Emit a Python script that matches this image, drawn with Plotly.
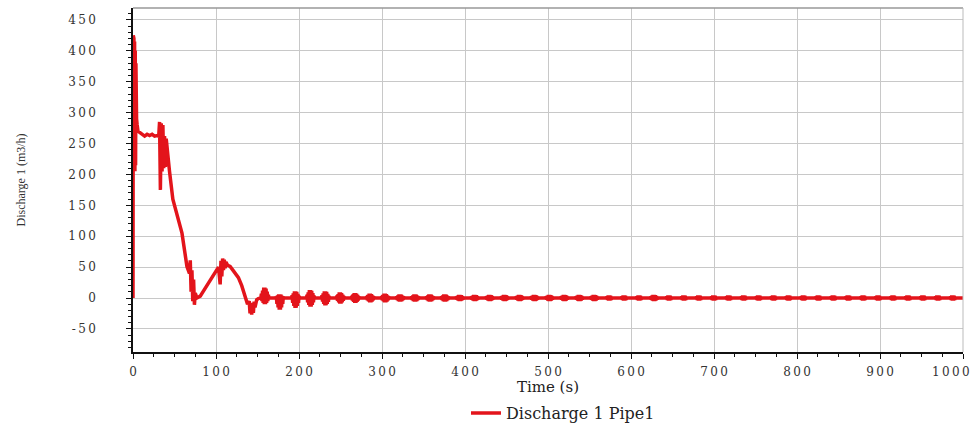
import plotly.graph_objects as go

# ---- data ----
# main transient (time s, discharge m3/h)
t_main = [0, 0.3, 0.7, 1.1, 1.5, 1.9, 2.3, 2.7, 3.1, 3.5, 3.9, 4.3, 5, 6, 8, 11, 14, 17, 20, 23, 26, 29, 31,
          32, 33, 34, 35, 36, 37, 38, 39, 40, 42, 44, 48, 53, 59, 65, 68, 69, 70, 71, 72, 73, 74, 75, 77, 81,
          86, 91, 96, 101, 103, 105, 106, 107, 108, 109, 110, 111, 112, 114, 117, 121, 125, 127, 131, 135,
          138, 140, 141, 142, 143, 144, 145, 146, 147, 149, 151]
q_main = [0, 425, 205, 420, 210, 415, 205, 400, 215, 380, 230, 290, 280, 270, 268, 264, 262, 265, 263, 265, 262, 263, 262,
          285, 175, 283, 205, 280, 210, 262, 212, 258, 228, 205, 160, 135, 105, 51, 40, 61, 10, 45, -5, 30, -11, 8, 0, 3,
          14, 24, 35, 45, 50, 22, 60, 35, 64, 45, 62, 48, 58, 53, 51, 44, 36, 33, 20, 2,
          -10, -5, -25, -8, -27, -12, -24, -6, -15, -3, -1]

# oscillation bursts after ~150 s: centre time, upper peak, lower trough
burst_t = [159, 177, 196, 214, 232, 250, 268, 286, 304, 322, 340, 358, 376, 394, 412, 430, 448, 466, 484, 502,
           520, 538, 556, 574, 592, 610, 628, 646, 664, 682, 700, 718, 736, 754, 772, 790, 808, 826, 844, 862,
           880, 898, 916, 934, 952, 970, 988]
burst_hi = [17, 6, 11, 13, 11, 9, 8, 7, 7, 6, 6, 6, 6, 5, 5, 5, 5, 5, 5, 5,
            5, 5, 5, 4, 4, 4, 5, 4, 4, 4, 4, 4, 4, 4, 4, 4, 4, 4, 4, 4,
            4, 4, 4, 4, 4, 4, 4]
burst_lo = [-10, -19, -16, -14, -12, -9, -8, -7, -7, -6, -6, -6, -6, -5, -5, -5, -5, -5, -5, -5,
            -5, -5, -5, -4, -4, -4, -5, -4, -4, -4, -4, -4, -4, -4, -4, -4, -4, -4, -4, -4,
            -4, -4, -4, -4, -4, -4, -4]

x_ticks = [0, 100, 200, 300, 400, 500, 600, 700, 800, 900, 1000]
y_ticks = [-50, 0, 50, 100, 150, 200, 250, 300, 350, 400, 450]

# ---- build series (each burst drawn as a short zig-zag between its peak and trough) ----
shape_dt = [-5, -4.3, -3.6, -2.9, -2.2, -1.5, -0.8, -0.1, 0.6, 1.3, 2.0, 2.7, 3.4, 4.1, 4.8]
shape_w = [0.0, 0.4, -0.5, 0.7, -0.8, 1.0, -1.0, 1.0, -1.0, 0.9, -0.8, 0.6, -0.5, 0.3, 0.0]
t_all = list(t_main)
q_all = list(q_main)
for tc, hi, lo in zip(burst_t, burst_hi, burst_lo):
    for dt, w in zip(shape_dt, shape_w):
        t_all.append(tc + dt)
        q_all.append(w * hi if w >= 0 else -w * lo)
t_all.append(1000)
q_all.append(0)

TS = "\u2009"
def spaced(v):
    return TS.join(str(v))

x_text = [spaced(v) for v in x_ticks]
last_label = x_text[-1]
x_text[-1] = ""   # last label is placed right-aligned so it stays inside the page (as in the reference)

fig = go.Figure()
fig.add_trace(go.Scatter(x=t_all, y=q_all, mode="lines", name="Discharge 1 Pipe1",
                         line=dict(color="#e3141b", width=3.5)))

tickfont = dict(family="DejaVu Serif", size=12, color="#333")
fig.add_annotation(x=x_ticks[-1], xref="x", y=0, yref="paper", text=last_label, showarrow=False,
                   xanchor="right", yanchor="middle", xshift=9, yshift=-20, font=tickfont)
fig.update_layout(
    width=974, height=425,
    margin=dict(l=133, r=11, t=8, b=73, autoexpand=False),
    paper_bgcolor="white", plot_bgcolor="white",
    showlegend=True,
    legend=dict(orientation="h", xref="container", yref="container",
                x=0.578, xanchor="center", y=0.028, yanchor="middle", itemwidth=30,
                font=dict(family="DejaVu Serif", size=16, color="#222")),
    xaxis=dict(range=[0, 1000], tickvals=x_ticks, ticktext=x_text,
               tickfont=tickfont, showgrid=True, gridcolor="#c8c8c8", gridwidth=1,
               showline=True, linecolor="#111", linewidth=1.5, ticks="outside", ticklen=5,
               tickcolor="#111", zeroline=False, ticklabelstandoff=3,
               automargin=False,
               minor=dict(dtick=25, ticks="outside", ticklen=3, tickcolor="#111", showgrid=False),
               title=dict(text="\u00a0" * 4 + "Time (s)", font=dict(family="DejaVu Serif", size=15, color="#222"),
                          standoff=2)),
    yaxis=dict(range=[-87.4, 469.4], tickvals=y_ticks, ticktext=[spaced(v) for v in y_ticks],
               tickfont=tickfont, showgrid=True, gridcolor="#c8c8c8", gridwidth=1,
               showline=True, linecolor="#111", linewidth=1.5, ticks="outside", ticklen=5,
               tickcolor="#111", zeroline=False, ticklabelstandoff=28, automargin=False,
               minor=dict(dtick=10, ticks="outside", ticklen=3, tickcolor="#111", showgrid=False),
               title=dict(text="Discharge 1 (m3/h)", font=dict(family="Liberation Serif", size=12, color="#333"),
                          standoff=40)),
    shapes=[dict(type="line", xref="paper", yref="paper", x0=0, x1=1, y0=1, y1=1,
                 line=dict(color="#999", width=1.5)),
            dict(type="line", xref="paper", yref="paper", x0=1, x1=1, y0=0, y1=1,
                 line=dict(color="#bbb", width=1))],
)

fig.write_html("out.html")
